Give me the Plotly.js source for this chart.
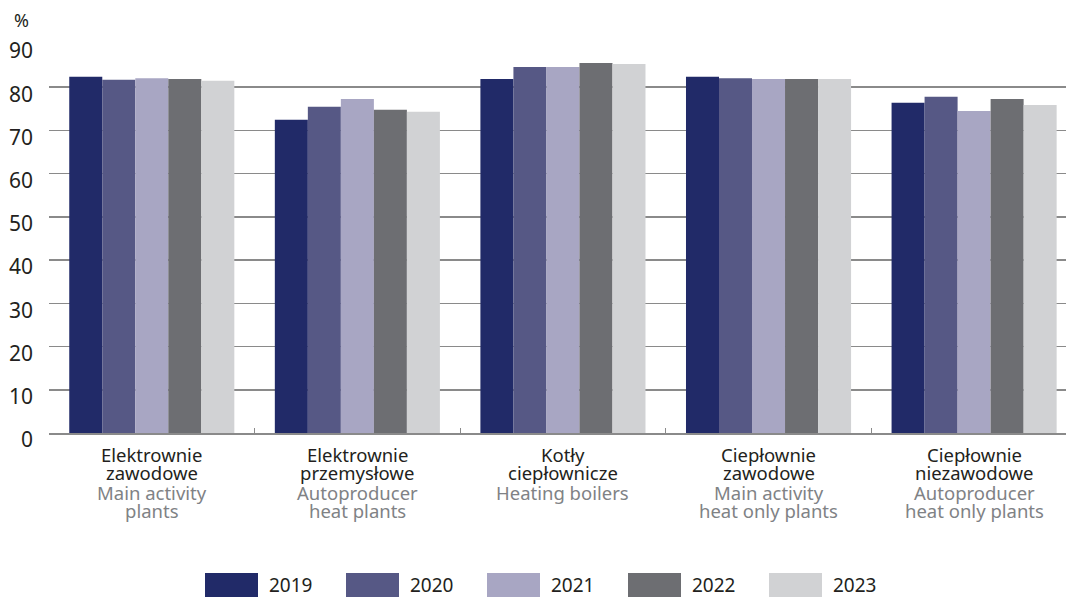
<!DOCTYPE html>
<html>
<head>
<meta charset="utf-8">
<script src="https://cdn.plot.ly/plotly-3.0.1.min.js"></script>
<style>
  html, body { margin: 0; padding: 0; background: #ffffff; }
  #chart { width: 1066px; height: 597px; }
</style>
</head>
<body>
<div id="chart"></div>
<script>
// ---- data ----
var categoriesPL = [
  ["Elektrownie", "zawodowe"],
  ["Elektrownie", "przemysłowe"],
  ["Kotły", "ciepłownicze"],
  ["Ciepłownie", "zawodowe"],
  ["Ciepłownie", "niezawodowe"]
];
var categoriesEN = [
  ["Main activity", "plants"],
  ["Autoproducer", "heat plants"],
  ["Heating boilers"],
  ["Main activity", "heat only plants"],
  ["Autoproducer", "heat only plants"]
];
var years = ["2019", "2020", "2021", "2022", "2023"];
var values2019 = [82.4, 72.5, 81.9, 82.4, 76.4];
var values2020 = [81.7, 75.5, 84.7, 82.1, 77.8];
var values2021 = [82.1, 77.3, 84.7, 81.9, 74.5];
var values2022 = [81.9, 74.8, 85.6, 81.9, 77.3];
var values2023 = [81.5, 74.3, 85.4, 81.9, 75.9];
var seriesValues = [values2019, values2020, values2021, values2022, values2023];
var colors = ["#212a68", "#565885", "#a8a6c3", "#6d6e72", "#d1d2d4"];
var yTickValues = [0, 10, 20, 30, 40, 50, 60, 70, 80, 90];

// ---- layout geometry (pixels) ----
var W = 1066, H = 597;
var mL = 49, mR = 0, mT = 44, mB = 164;
var plotW = W - mL - mR, plotH = H - mT - mB;
function px2xp(px) { return (px - mL) / plotW; }
function py2yp(py) { return (H - mB - py) / plotH; }

var FONT = "Noto Sans, sans-serif";
var BLACK = "#231f20";
var GREY = "#808285";

var catIdx = categoriesPL.map(function (_, i) { return i; });

var traces = years.map(function (yr, k) {
  return {
    type: "bar",
    name: yr,
    x: catIdx,
    y: seriesValues[k],
    marker: { color: colors[k], line: { width: 0 } },
    showlegend: false,
    hoverinfo: "x+y+name"
  };
});

var annotations = [];
var shapes = [];

// % unit label
annotations.push({
  xref: "paper", yref: "paper",
  x: px2xp(21), y: py2yp(20),
  xanchor: "center", yanchor: "middle",
  text: "%", showarrow: false, height: 18,
  font: { family: FONT, size: 18, color: BLACK }
});

// category labels (Polish black, English grey)
var lineY = [455, 473, 492, 510];
categoriesPL.forEach(function (lines, i) {
  var all = lines.map(function (t) { return { t: t, c: BLACK }; })
    .concat(categoriesEN[i].map(function (t) { return { t: t, c: GREY }; }));
  all.forEach(function (ln, j) {
    annotations.push({
      xref: "x", yref: "paper",
      x: i, y: py2yp(lineY[j]),
      xanchor: "center", yanchor: "middle",
      text: ln.t, showarrow: false,
      font: { family: FONT, size: 18.5, color: ln.c }
    });
  });
});

// custom legend with wide swatches
years.forEach(function (yr, k) {
  var x0 = 205 + k * 141;
  shapes.push({
    type: "rect", xref: "paper", yref: "paper",
    x0: px2xp(x0), x1: px2xp(x0 + 53),
    y0: py2yp(597), y1: py2yp(573),
    fillcolor: colors[k], line: { width: 0 }, layer: "above"
  });
  annotations.push({
    xref: "paper", yref: "paper",
    x: px2xp(x0 + 62), y: py2yp(585),
    xanchor: "left", yanchor: "middle",
    text: yr, showarrow: false,
    height: 18, valign: "middle",
    font: { family: FONT, size: 19, color: BLACK }
  });
});

var layout = {
  width: W, height: H,
  margin: { l: mL, r: mR, t: mT, b: mB, pad: 0 },
  paper_bgcolor: "#ffffff",
  plot_bgcolor: "#ffffff",
  barmode: "group",
  bargap: 0.197,
  bargroupgap: 0,
  showlegend: false,
  font: { family: FONT, color: BLACK },
  xaxis: {
    type: "linear",
    range: [-0.5, 4.447],
    showgrid: false,
    zeroline: false,
    showline: true,
    linecolor: "#8a8a8a",
    linewidth: 1.5,
    tickmode: "array",
    tickvals: [-0.5, 0.5, 1.5, 2.5, 3.5],
    ticks: "inside",
    ticklen: 5,
    tickcolor: "#8a8a8a",
    tickwidth: 1,
    showticklabels: false,
    fixedrange: true
  },
  yaxis: {
    range: [0, 90],
    tickmode: "array",
    tickvals: yTickValues,
    ticktext: yTickValues.map(String),
    showgrid: true,
    gridcolor: "#8a8a8a",
    gridwidth: 1.5,
    zeroline: false,
    showline: false,
    ticks: "",
    ticklabelstandoff: 15,
    ticklabelshift: 7,
    tickfont: { family: FONT, size: 21, color: BLACK },
    fixedrange: true
  },
  annotations: annotations,
  shapes: shapes
};

Plotly.newPlot("chart", traces, layout, { displayModeBar: false, staticPlot: true });
</script>
</body>
</html>
